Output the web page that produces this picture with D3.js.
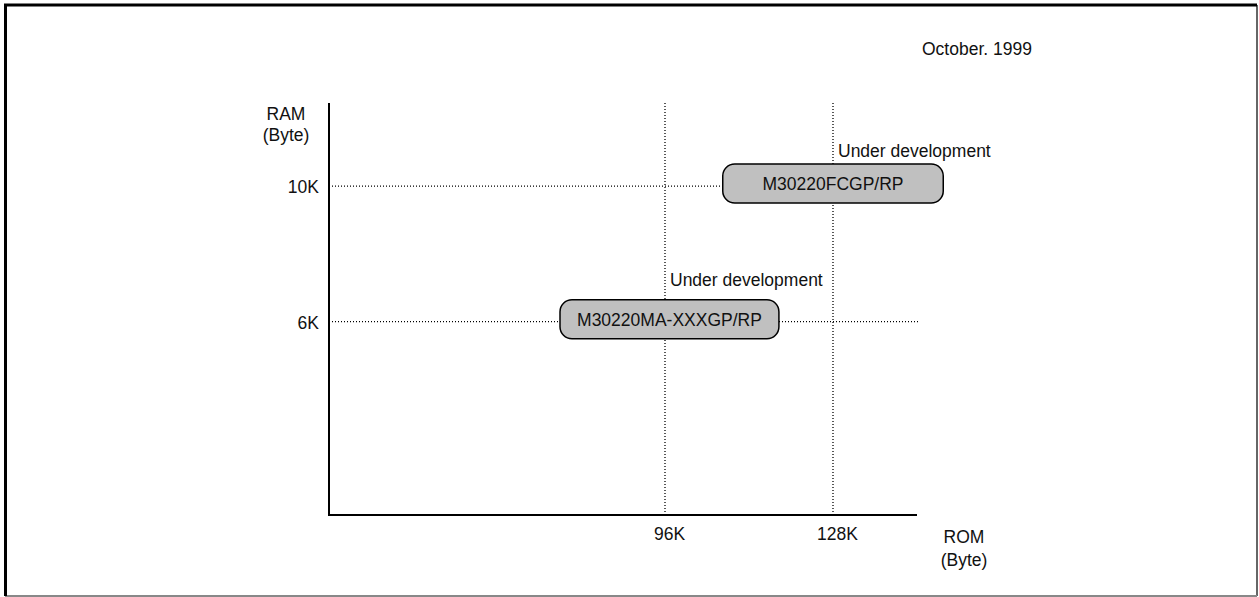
<!DOCTYPE html>
<html>
<head>
<meta charset="utf-8">
<script src="https://cdn.jsdelivr.net/npm/d3@7"></script>
<style>
  body { margin: 0; background: #fff; }
  svg text { font-family: "Liberation Sans", Arial, sans-serif; font-size: 17.5px; fill: #111; }
</style>
</head>
<body>
<svg id="chart" width="1259" height="597"></svg>
<script>
// data
var ramTicks = [10, 6];            // K bytes
var romTicks = [96, 128];          // K bytes
var products = ["M30220FCGP/RP", "M30220MA-XXXGP/RP"];
var productRam = [10, 6];
var productRomFrom = [107, 76];
var productRomTo = [149, 117.7];
var productNote = ["Under development", "Under development"];
var noteTick = [128, 96];          // the rom line the note hangs on
var dateText = "October. 1999";

var svg = d3.select("#chart");

// outer frame
svg.append("line").attr("x1", 1257).attr("x2", 1257).attr("y1", 5).attr("y2", 596)
  .attr("stroke", "#666").attr("stroke-width", 2);
svg.append("line").attr("x1", 5).attr("x2", 1257).attr("y1", 596).attr("y2", 596)
  .attr("stroke", "#888").attr("stroke-width", 2);
svg.append("line").attr("x1", 5.5).attr("x2", 5.5).attr("y1", 4).attr("y2", 596)
  .attr("stroke", "#000").attr("stroke-width", 3);
svg.append("line").attr("x1", 4).attr("x2", 1257).attr("y1", 5).attr("y2", 5)
  .attr("stroke", "#000").attr("stroke-width", 3);

var x = d3.scaleLinear().domain([32, 144]).range([329, 917]);
var y = d3.scaleLinear().domain([0.3, 12.45]).range([515, 103]);

var dotted = "1,2";

// vertical guide lines
svg.selectAll(".vguide").data(romTicks).enter().append("line")
  .attr("class", "vguide")
  .attr("x1", d => x(d)).attr("x2", d => x(d))
  .attr("y1", y.range()[1]).attr("y2", y.range()[0])
  .attr("stroke", "#000").attr("stroke-width", 1.3).attr("stroke-dasharray", dotted);

// horizontal guide lines
svg.selectAll(".hguide").data(ramTicks).enter().append("line")
  .attr("class", "hguide")
  .attr("x1", x.range()[0]).attr("x2", x(144.5))
  .attr("y1", d => y(d)).attr("y2", d => y(d))
  .attr("stroke", "#000").attr("stroke-width", 1.3).attr("stroke-dasharray", dotted);

// axes
var yAxis = svg.append("g").attr("transform", "translate(" + x.range()[0] + ",0)")
  .call(d3.axisLeft(y).tickValues(ramTicks).tickSize(0).tickPadding(10).tickFormat(d => d + "K"));
var xAxis = svg.append("g").attr("transform", "translate(0," + y.range()[0] + ")")
  .call(d3.axisBottom(x).tickValues(romTicks).tickSize(0).tickPadding(13).tickFormat(d => d + "K"));
[xAxis, yAxis].forEach(function(a) {
  a.select(".domain").remove();
  a.selectAll("text").attr("font-size", 17.5).attr("font-family", "Liberation Sans, Arial, sans-serif").attr("fill", "#111");
});
xAxis.selectAll("text").attr("dx", 4);
yAxis.selectAll("text").attr("dy", "0.36em");

svg.append("line").attr("x1", x.range()[0]).attr("x2", x.range()[0])
  .attr("y1", y.range()[1]).attr("y2", y.range()[0] + 1)
  .attr("stroke", "#000").attr("stroke-width", 2);
svg.append("line").attr("x1", x.range()[0]).attr("x2", x.range()[1])
  .attr("y1", y.range()[0]).attr("y2", y.range()[0])
  .attr("stroke", "#000").attr("stroke-width", 2);

// axis titles
svg.append("text").attr("x", 286).attr("y", 120).attr("text-anchor", "middle").text("RAM");
svg.append("text").attr("x", 286).attr("y", 141).attr("text-anchor", "middle").text("(Byte)");
svg.append("text").attr("x", 964).attr("y", 543).attr("text-anchor", "middle").text("ROM");
svg.append("text").attr("x", 964).attr("y", 566).attr("text-anchor", "middle").text("(Byte)");

svg.append("text").attr("x", 922).attr("y", 55).text(dateText);

// product boxes
var boxH = 39;
var noteGap = [7, 14];
var boxes = svg.selectAll(".prod").data(products).enter().append("g").attr("class", "prod");
boxes.append("rect")
  .attr("x", (d, i) => x(productRomFrom[i]))
  .attr("width", (d, i) => x(productRomTo[i]) - x(productRomFrom[i]))
  .attr("y", (d, i) => y(productRam[i]) - 2.5 - boxH / 2)
  .attr("height", boxH)
  .attr("rx", 12).attr("ry", 12)
  .attr("fill", "#c0c0c0").attr("stroke", "#000").attr("stroke-width", 1.5);
boxes.append("text")
  .attr("x", (d, i) => (x(productRomFrom[i]) + x(productRomTo[i])) / 2)
  .attr("y", (d, i) => y(productRam[i]) - 2.5)
  .attr("dy", "0.36em")
  .attr("text-anchor", "middle")
  .text(d => d);
boxes.append("text")
  .attr("x", (d, i) => x(noteTick[i]) + 5)
  .attr("y", (d, i) => y(productRam[i]) - 2.5 - boxH / 2 - noteGap[i])
  .text((d, i) => productNote[i]);
</script>
</body>
</html>
